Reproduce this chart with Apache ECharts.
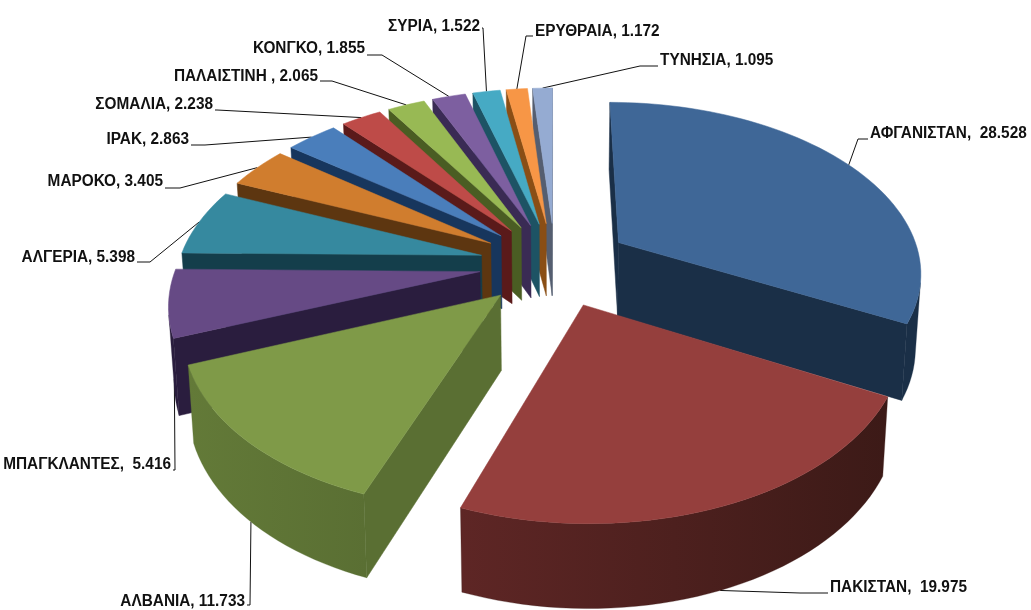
<!DOCTYPE html>
<html><head><meta charset="utf-8">
<style>html,body{margin:0;padding:0;background:#fff}#c{width:1031px;height:610px}</style>
<script src="https://cdn.jsdelivr.net/npm/echarts@6/dist/echarts.min.js"></script>
</head><body><div id="c"></div>
<script>
const categories=['ΑΦΓΑΝΙΣΤΑΝ','ΠΑΚΙΣΤΑΝ','ΑΛΒΑΝΙΑ','ΜΠΑΓΚΛΑΝΤΕΣ','ΑΛΓΕΡΙΑ','ΜΑΡΟΚΟ','ΙΡΑΚ','ΣΟΜΑΛΙΑ','ΠΑΛΑΙΣΤΙΝΗ ','ΚΟΝΓΚΟ','ΣΥΡΙΑ','ΕΡΥΘΡΑΙΑ','ΤΥΝΗΣΙΑ'];
const values=[28.528,19.975,11.733,5.416,5.398,3.405,2.863,2.238,2.065,1.855,1.522,1.172,1.095];
const separators=[',  ',',  ',', ',',  ',', ',', ',', ',', ',', ',', ',', ',', ',', '];
const topColors=['#3F6797','#953F3D','#7F9A48','#664A85','#36899F','#D07D2E','#4A7EBB','#BE4B48','#98B954','#7D5FA0','#46AAC4','#F79646','#95ABD2'];
const wallLeft=['#1A2F47','#5E2625','#637A38','#2A1D3E','#143E4B','#5D3610','#17365D','#5A1A1A','#4A5D23','#3A2B54','#1D5364','#8A4E15','#555E70'];
const wallRight=['#1A2F47','#3C1A17','#5A6F33','#2A1D3E','#143E4B','#5D3610','#17365D','#5A1A1A','#4A5D23','#3A2B54','#1D5364','#8A4E15','#555E70'];
const labelAnchorX=[870,830,245,171,135,163,189,213,318,365,480,535,660];
const labelAnchorY=[134,588,602,465,258,182,140,105,77,49,27,32,61];
const labelAlign=['left','left','right','right','right','right','right','right','right','right','right','left','left'];
const elbowX=[858,800,250,175,150,180,205,217,332,382,483,526,640];
const elbowY=[139,593,605,470,262,188,145,110,81,55,28,36,66];

const cx=555,cy=264,R=303,Ry=169,k=0.16,E=0.25,H=74,shrink=0.985,textScale=0.96;
const total=values.reduce((a,b)=>a+b,0);
const rad=Math.PI/180;
const starts=[];let acc=0;values.forEach(v=>{starts.push(acc/total*360);acc+=v;});
function project(U,V,low){
  const s=1/(1-k*V);let x=cx+R*U*s,y=cy+Ry*V*s;
  if(low){x=cx+(x-cx)*shrink;y+=H*(0.6*s+0.4);}
  return [x,y];
}
function ptOf(i,theta,r,low){
  const mid=(starts[i]+values[i]/total*180)*rad;
  const t=theta*rad;
  return project(E*Math.sin(mid)+r*Math.sin(t),-E*Math.cos(mid)-r*Math.cos(t),low);
}
function area(p){let a=0;p.forEach((q,i)=>{const n=p[(i+1)%p.length];a+=q[0]*n[1]-n[0]*q[1];});return a;}
function renderItem(params,api){
  const i=api.value(0);
  const a0=starts[i],span=values[i]/total*360,n=Math.max(2,Math.ceil(span/2));
  const arcs=[];for(let j=0;j<=n;j++)arcs.push(a0+span*j/n);
  const top=[ptOf(i,0,0,false)].concat(arcs.map(t=>ptOf(i,t,1,false)));
  const low=[ptOf(i,0,0,true)].concat(arcs.map(t=>ptOf(i,t,1,true)));
  const children=[];
  const quad=(a,b)=>[top[a],top[b],low[b],low[a]];
  [[0,1],[n+1,0]].forEach(([a,b])=>{
    const q=quad(a,b);
    if(area(q)<0)children.push({type:'polygon',shape:{points:q},style:{fill:wallRight[i],stroke:wallRight[i],lineWidth:0.5}});
  });
  let f=[],b=[];
  for(let j=1;j<=n;j++){
    if(area(quad(j,j+1))<0){
      if(!f.length){f.push(top[j]);b.push(low[j]);}
      f.push(top[j+1]);b.push(low[j+1]);
    }
  }
  if(f.length){
    children.push({type:'polygon',shape:{points:f.concat(b.reverse())},style:{
      fill:new echarts.graphic.LinearGradient(0,0,1,0,[{offset:0,color:wallLeft[i]},{offset:1,color:wallRight[i]}]),
      stroke:wallRight[i],lineWidth:0.3}});
  }
  children.push({type:'polygon',shape:{points:top},style:{fill:topColors[i],stroke:topColors[i],lineWidth:0.5}});
  return {type:'group',children:children};
}
function renderLabel(params,api){
  const i=api.value(0);
  const mid=starts[i]+values[i]/total*180;
  const near=mid>100&&mid<265;
  const from=ptOf(i,mid,1,near);
  const endX=labelAlign[i]==='left'?labelAnchorX[i]-2:labelAnchorX[i]+2;
  const pts=[from,[elbowX[i],elbowY[i]],[endX,elbowY[i]]];
  return {type:'group',children:[
    {type:'polyline',shape:{points:pts},style:{stroke:'#111',lineWidth:1,fill:null}},
    {type:'text',x:labelAnchorX[i],y:labelAnchorY[i],scaleX:textScale,
      style:{x:0,y:0,text:categories[i]+separators[i]+values[i].toFixed(3),
      fill:'#111',font:'bold 16px "Liberation Sans",sans-serif',align:labelAlign[i],verticalAlign:'middle'}}
  ]};
}
const order=values.map((v,i)=>i).sort((p,q)=>{
  const d=i=>-Math.cos((starts[i]+values[i]/total*180)*rad);
  return d(p)-d(q);
});
const chart=echarts.init(document.getElementById('c'),null,{renderer:'canvas'});
chart.setOption({
  animation:false,backgroundColor:'#fff',
  series:[
    {type:'custom',coordinateSystem:'none',renderItem:renderLabel,silent:true,data:order.map(i=>[i]),z:1},
    {type:'custom',coordinateSystem:'none',renderItem:renderItem,silent:true,data:order.map(i=>[i]),z:2}
  ]
});
</script></body></html>
